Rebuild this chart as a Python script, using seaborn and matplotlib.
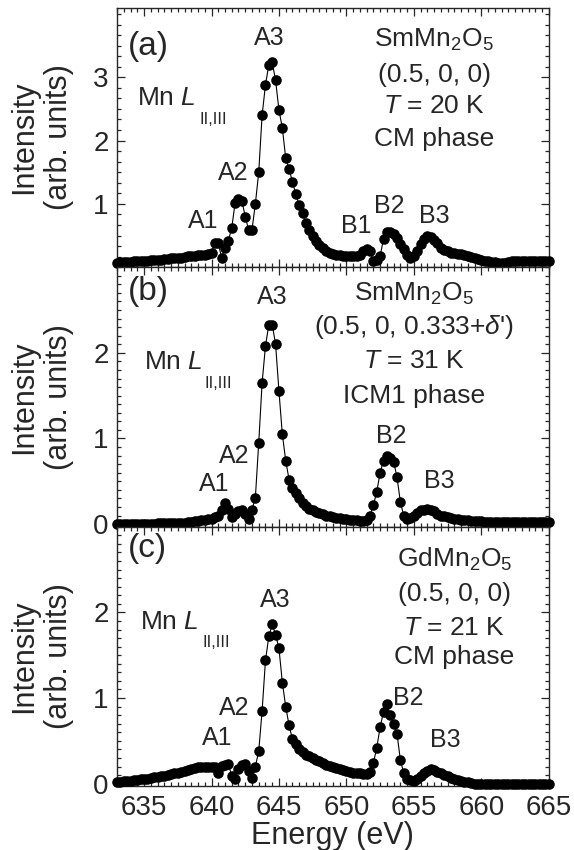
import matplotlib
matplotlib.use("Agg")
import matplotlib.pyplot as plt
import seaborn as sns
from matplotlib.ticker import MultipleLocator, FixedLocator

# photon energy (eV), 0.25 eV steps
energy = [
    633.0, 633.25, 633.5, 633.75, 634.0, 634.25, 634.5, 634.75,
    635.0, 635.25, 635.5, 635.75, 636.0, 636.25, 636.5, 636.75,
    637.0, 637.25, 637.5, 637.75, 638.0, 638.25, 638.5, 638.75,
    639.0, 639.25, 639.5, 639.75, 640.0, 640.25, 640.5, 640.75,
    641.0, 641.25, 641.5, 641.75, 642.0, 642.25, 642.5, 642.75,
    643.0, 643.25, 643.5, 643.75, 644.0, 644.25, 644.5, 644.75,
    645.0, 645.25, 645.5, 645.75, 646.0, 646.25, 646.5, 646.75,
    647.0, 647.25, 647.5, 647.75, 648.0, 648.25, 648.5, 648.75,
    649.0, 649.25, 649.5, 649.75, 650.0, 650.25, 650.5, 650.75,
    651.0, 651.25, 651.5, 651.75, 652.0, 652.25, 652.5, 652.75,
    653.0, 653.25, 653.5, 653.75, 654.0, 654.25, 654.5, 654.75,
    655.0, 655.25, 655.5, 655.75, 656.0, 656.25, 656.5, 656.75,
    657.0, 657.25, 657.5, 657.75, 658.0, 658.25, 658.5, 658.75,
    659.0, 659.25, 659.5, 659.75, 660.0, 660.25, 660.5, 660.75,
    661.0, 661.25, 661.5, 661.75, 662.0, 662.25, 662.5, 662.75,
    663.0, 663.25, 663.5, 663.75, 664.0, 664.25, 664.5, 664.75,
    665.0,
]

# (a) SmMn2O5, (0.5, 0, 0), 20 K
int_a = [
    0.07, 0.075, 0.08, 0.08, 0.085, 0.09, 0.09, 0.095,
    0.10, 0.10, 0.11, 0.11, 0.12, 0.12, 0.13, 0.13,
    0.14, 0.14, 0.15, 0.15, 0.16, 0.17, 0.17, 0.18,
    0.19, 0.19, 0.20, 0.21, 0.23, 0.38, 0.38, 0.15,
    0.30, 0.42, 0.62, 1.02, 1.07, 1.05, 0.80, 0.59,
    0.59, 1.00, 1.50, 2.40, 2.88, 3.20, 3.24, 2.95,
    2.48, 2.20, 1.72, 1.55, 1.35, 1.15, 0.98, 0.85,
    0.70, 0.58, 0.50, 0.42, 0.35, 0.30, 0.26, 0.23,
    0.21, 0.20, 0.19, 0.18, 0.17, 0.17, 0.17, 0.18,
    0.20, 0.25, 0.28, 0.25, 0.10, 0.12, 0.17, 0.45,
    0.55, 0.56, 0.53, 0.46, 0.37, 0.28, 0.19, 0.15,
    0.18, 0.26, 0.36, 0.44, 0.49, 0.47, 0.43, 0.38,
    0.31, 0.27, 0.25, 0.23, 0.22, 0.21, 0.21, 0.20,
    0.18, 0.16, 0.14, 0.13, 0.12, 0.10, 0.09, 0.08,
    0.08, 0.07, 0.07, 0.07, 0.08, 0.09, 0.10, 0.10,
    0.10, 0.10, 0.10, 0.10, 0.10, 0.10, 0.10, 0.10,
    0.10,
]

# (b) SmMn2O5, (0.5, 0, 0.333+d'), 31 K
int_b = [
    0.0, 0.0, 0.0, 0.0, 0.0, 0.0, 0.0, 0.0,
    0.005, 0.005, 0.005, 0.005, 0.01, 0.01, 0.01, 0.01,
    0.01, 0.01, 0.01, 0.015, 0.015, 0.02, 0.03, 0.04,
    0.04, 0.05, 0.05, 0.06, 0.06, 0.08, 0.10, 0.16,
    0.25, 0.18, 0.08, 0.12, 0.15, 0.17, 0.12, 0.06,
    0.17, 0.31, 0.95, 1.65, 2.08, 2.33, 2.33, 2.10,
    1.55, 1.05, 0.74, 0.52, 0.42, 0.36, 0.30, 0.25,
    0.21, 0.18, 0.16, 0.14, 0.13, 0.12, 0.10, 0.09,
    0.08, 0.07, 0.07, 0.06, 0.06, 0.05, 0.05, 0.05,
    0.04, 0.04, 0.05, 0.10, 0.22, 0.38, 0.60, 0.74,
    0.79, 0.77, 0.73, 0.55, 0.26, 0.10, 0.06, 0.07,
    0.10, 0.13, 0.16, 0.17, 0.18, 0.17, 0.15, 0.12,
    0.10, 0.09, 0.08, 0.07, 0.06, 0.06, 0.05, 0.05,
    0.05, 0.04, 0.04, 0.04, 0.04, 0.03, 0.03, 0.03,
    0.03, 0.02, 0.02, 0.02, 0.02, 0.02, 0.02, 0.02,
    0.02, 0.02, 0.02, 0.02, 0.02, 0.02, 0.02, 0.02,
    0.02,
]

# (c) GdMn2O5, (0.5, 0, 0), 21 K
int_c = [
    0.02, 0.02, 0.03, 0.03, 0.035, 0.04, 0.045, 0.05,
    0.055, 0.06, 0.07, 0.075, 0.08, 0.09, 0.095, 0.10,
    0.11, 0.12, 0.13, 0.14, 0.15, 0.16, 0.17, 0.18,
    0.19, 0.20, 0.20, 0.20, 0.19, 0.19, 0.12, 0.21,
    0.22, 0.23, 0.09, 0.06, 0.17, 0.22, 0.23, 0.15,
    0.07, 0.20, 0.38, 0.85, 1.44, 1.72, 1.86, 1.74,
    1.58, 1.18, 0.90, 0.68, 0.52, 0.46, 0.41, 0.37,
    0.34, 0.32, 0.30, 0.28, 0.26, 0.24, 0.22, 0.21,
    0.19, 0.18, 0.17, 0.16, 0.15, 0.14, 0.13, 0.12,
    0.12, 0.11, 0.11, 0.14, 0.24, 0.42, 0.66, 0.84,
    0.93, 0.80, 0.70, 0.58, 0.28, 0.12, 0.06, 0.04,
    0.035, 0.06, 0.09, 0.12, 0.15, 0.17, 0.16, 0.14,
    0.12, 0.10, 0.09, 0.07, 0.05, 0.04, 0.03, 0.02,
    0.015, 0.01, 0.0, 0.0, 0.0, 0.0, 0.0, 0.0,
    0.0, 0.0, 0.0, 0.0, 0.0, 0.0, 0.0, 0.0,
    0.0, 0.0, 0.0, 0.0, 0.0, 0.0, 0.0, 0.0,
    0.0,
]

tags = ["(a)", "(b)", "(c)"]
info = [
    [r"SmMn$_2$O$_5$", "(0.5, 0, 0)", r"$T$ = 20 K", "CM phase"],
    [r"SmMn$_2$O$_5$", r"(0.5, 0, 0.333+$\delta$')", r"$T$ = 31 K", "ICM1 phase"],
    [r"GdMn$_2$O$_5$", "(0.5, 0, 0)", r"$T$ = 21 K", "CM phase"],
]
peak_names = [
    ["A1", "A2", "A3", "B1", "B2", "B3"],
    ["A1", "A2", "A3", "B2", "B3"],
    ["A1", "A2", "A3", "B2", "B3"],
]

sns.set_style("ticks")
plt.rcParams["font.family"] = ["Liberation Sans", "DejaVu Sans"]
plt.rcParams["mathtext.fontset"] = "custom"
plt.rcParams["mathtext.rm"] = "Liberation Sans"
plt.rcParams["mathtext.it"] = "Liberation Sans:italic"
plt.rcParams["mathtext.bf"] = "Liberation Sans:bold"

fig, axes = plt.subplots(3, 1, sharex=True, figsize=(5.74, 8.5), dpi=100)
fig.subplots_adjust(left=0.204, right=0.956, top=0.991, bottom=0.075, hspace=0)

# layout of each panel: y range, minor step, labelled ticks, text spots
layout = [
    dict(ylim=(0, 4.1), minor=1 / 6, ticks=[1, 2, 3],
         tag=(633.8, 3.48), mn=(634.45, 2.68), sub=(639.1, 2.33),
         info_x=656.5, info_y=[3.59, 3.03, 2.54, 2.03],
         peaks=[(639.4, 0.73), (641.6, 1.48), (644.3, 3.62),
                (650.7, 0.65), (653.2, 0.97), (656.5, 0.81)]),
    dict(ylim=(-0.03, 3.0), minor=0.1, ticks=[0, 1, 2],
         tag=(633.8, 2.72), mn=(635.0, 1.89), sub=(639.5, 1.64),
         info_x=655.0, info_y=[2.69, 2.30, 1.91, 1.50],
         peaks=[(640.2, 0.47), (641.7, 0.80), (644.5, 2.65),
                (653.3, 1.03), (656.9, 0.50)]),
    dict(ylim=(-0.03, 3.0), minor=0.1, ticks=[0, 1, 2],
         tag=(633.8, 2.74), mn=(634.7, 1.89), sub=(639.3, 1.65),
         info_x=658.0, info_y=[2.62, 2.21, 1.82, 1.48],
         peaks=[(640.4, 0.53), (641.7, 0.88), (644.7, 2.15),
                (654.6, 1.00), (657.35, 0.51)]),
]

for ax, y, lay, tag, lines, names in zip(axes, [int_a, int_b, int_c], layout,
                                         tags, info, peak_names):
    sns.lineplot(x=energy, y=y, ax=ax, color="black", linewidth=0.8,
                 marker="o", markersize=7.6, markeredgewidth=0,
                 clip_on=False, zorder=3)
    ax.set_xlim(633, 665)
    ax.set_ylim(*lay["ylim"])
    ax.yaxis.set_major_locator(FixedLocator(lay["ticks"]))
    ax.yaxis.set_minor_locator(MultipleLocator(lay["minor"]))
    ax.xaxis.set_major_locator(MultipleLocator(5))
    ax.xaxis.set_minor_locator(MultipleLocator(0.5))
    ax.tick_params(which="both", direction="in", top=True, right=True,
                   labelsize=20, width=0.9)
    ax.tick_params(which="major", length=6, pad=6)
    ax.tick_params(which="minor", length=3)
    for s in ax.spines.values():
        s.set_linewidth(1.0)

    ax.set_ylabel("Intensity\n(arb. units)", fontsize=22, linespacing=1.2)
    ax.yaxis.set_label_coords(-0.1, 0.5)

    ax.text(*lay["tag"], tag, fontsize=24, ha="left", va="center")
    ax.text(*lay["mn"], r"Mn $L$", fontsize=19, ha="left", va="center")
    ax.text(*lay["sub"], "II,III", fontsize=12, ha="left", va="center")
    for line, yy in zip(lines, lay["info_y"]):
        ax.text(lay["info_x"], yy, line, fontsize=19, ha="center", va="center")
    for name, (px, py) in zip(names, lay["peaks"]):
        ax.text(px, py, name, fontsize=18, ha="center", va="center")

axes[-1].set_xlabel("Energy (eV)", fontsize=22, labelpad=0)

fig.savefig("out.png", dpi=100)
